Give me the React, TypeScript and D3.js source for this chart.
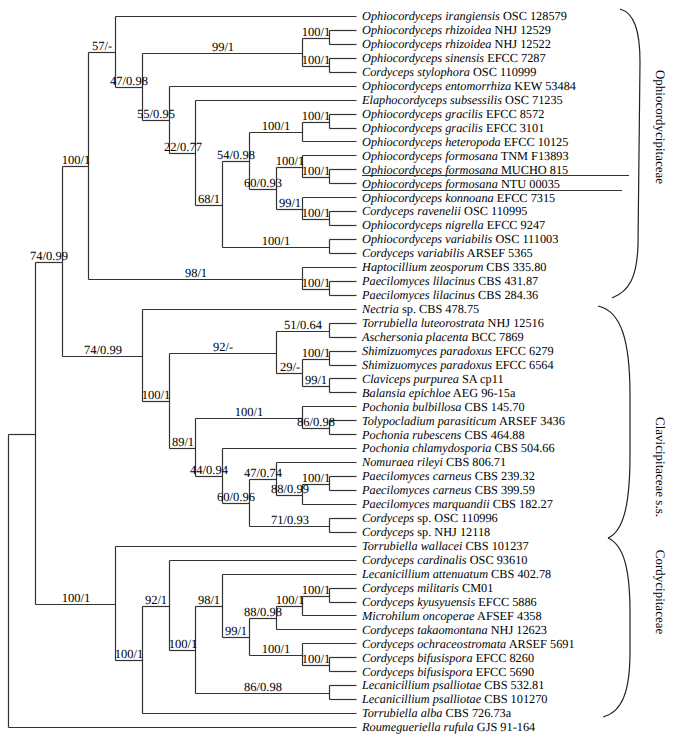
import React from 'react';
import * as d3 from 'd3';

// ---------- DATA ----------
const leafItalic: string[] = [
  'Ophiocordyceps irangiensis', 'Ophiocordyceps rhizoidea', 'Ophiocordyceps rhizoidea', 'Ophiocordyceps sinensis',
  'Cordyceps stylophora', 'Ophiocordyceps entomorrhiza', 'Elaphocordyceps subsessilis', 'Ophiocordyceps gracilis',
  'Ophiocordyceps gracilis', 'Ophiocordyceps heteropoda', 'Ophiocordyceps formosana', 'Ophiocordyceps formosana',
  'Ophiocordyceps formosana', 'Ophiocordyceps konnoana', 'Cordyceps ravenelii', 'Ophiocordyceps nigrella',
  'Ophiocordyceps variabilis', 'Cordyceps variabilis', 'Haptocillium zeosporum', 'Paecilomyces lilacinus',
  'Paecilomyces lilacinus', 'Nectria', 'Torrubiella luteorostrata', 'Aschersonia placenta',
  'Shimizuomyces paradoxus', 'Shimizuomyces paradoxus', 'Claviceps purpurea', 'Balansia epichloe',
  'Pochonia bulbillosa', 'Tolypocladium parasiticum', 'Pochonia rubescens', 'Pochonia chlamydosporia',
  'Nomuraea rileyi', 'Paecilomyces carneus', 'Paecilomyces carneus', 'Paecilomyces marquandii',
  'Cordyceps', 'Cordyceps', 'Torrubiella wallacei', 'Cordyceps cardinalis',
  'Lecanicillium attenuatum', 'Cordyceps militaris', 'Cordyceps kyusyuensis', 'Microhilum oncoperae',
  'Cordyceps takaomontana', 'Cordyceps ochraceostromata', 'Cordyceps bifusispora', 'Cordyceps bifusispora',
  'Lecanicillium psalliotae', 'Lecanicillium psalliotae', 'Torrubiella alba', 'Roumegueriella rufula',
];
const leafRoman: string[] = [
  'OSC 128579', 'NHJ 12529', 'NHJ 12522', 'EFCC 7287',
  'OSC 110999', 'KEW 53484', 'OSC 71235', 'EFCC 8572',
  'EFCC 3101', 'EFCC 10125', 'TNM F13893', 'MUCHO 815',
  'NTU 00035', 'EFCC 7315', 'OSC 110995', 'EFCC 9247',
  'OSC 111003', 'ARSEF 5365', 'CBS 335.80', 'CBS 431.87',
  'CBS 284.36', 'sp. CBS 478.75', 'NHJ 12516', 'BCC 7869',
  'EFCC 6279', 'EFCC 6564', 'SA cp11', 'AEG 96-15a',
  'CBS 145.70', 'ARSEF 3436', 'CBS 464.88', 'CBS 504.66',
  'CBS 806.71', 'CBS 239.32', 'CBS 399.59', 'CBS 182.27',
  'sp. OSC 110996', 'sp. NHJ 12118', 'CBS 101237', 'OSC 93610',
  'CBS 402.78', 'CM01', 'EFCC 5886', 'AFSEF 4358',
  'NHJ 12623', 'ARSEF 5691', 'EFCC 8260', 'EFCC 5690',
  'CBS 532.81', 'CBS 101270', 'CBS 726.73a', 'GJS 91-164',
];
const underlinedLeaves: number[] = [11, 12];

// Topology in Newick form: leaves are indices into the arrays above, internal labels are bootstrap/posterior support.
const subJ = '((10,(11,12)100/1)100/1,(13,(14,15)100/1)99/1)60/0.93';
const subI = `(((7,8)100/1,9)100/1,${subJ})54/0.98`;
const subH = `(${subI},(16,17)100/1)68/1`;
const subF = `(5,(6,${subH})22/0.77)55/0.95`;
const subE = '((1,2)100/1,(3,4)100/1)99/1';
const subOph = `((0,(${subE},${subF})47/0.98)57/-,(18,(19,20)100/1)98/1)100/1`;
const subL = '((22,23)51/0.64,((24,25)100/1,(26,27)99/1)29/-)92/-';
const subP = '((32,((33,34)100/1,35)88/0.99)47/0.74,(36,37)71/0.93)60/0.96';
const subM = `((28,(29,30)86/0.98)100/1,(31,${subP})44/0.94)89/1`;
const subClav = `(21,(${subL},${subM})100/1)74/0.99`;
const subW = '((((41,42)100/1,43)100/1,44)88/0.98,(45,(46,47)100/1)100/1)99/1';
const subCord = `(38,((39,((40,${subW})98/1,(48,49)86/0.98)100/1)92/1,50)100/1)100/1`;
const treeNewick = `(((${subOph},${subClav})74/0.99,${subCord}),51);`;

const cladeNames: string[] = ['Ophiocordycipitaceae', 'Clavicipitaceae s.s.', 'Cordycipitaceae'];

// ---------- LAYOUT / STYLE ----------
const W = 674, H = 742;
const LINE = '#333';
const FONT = '"Liberation Serif", "DejaVu Serif", serif';

type NNode = { label: string; children?: NNode[] };
function parseNewick(s: string): NNode {
  let i = 0;
  function node(): NNode {
    const n: NNode = { label: '' };
    if (s[i] === '(') {
      i++;
      n.children = [node()];
      while (s[i] === ',') { i++; n.children.push(node()); }
      i++;
    }
    const start = i;
    while (i < s.length && !',);'.includes(s[i])) i++;
    n.label = s.slice(start, i);
    return n;
  }
  return node();
}

export default function App() {
  const root = d3.hierarchy(parseNewick(treeNewick));
  const xScale = d3.scaleLinear().domain([0, root.height]).range([356, 8]);
  const yScale = d3.scaleLinear().domain([0, leafItalic.length - 1]).range([16, 727]);

  const pos = new Map<any, { x: number; y: number }>();
  root.eachAfter((n: any) => {
    let y: number;
    if (!n.children) y = yScale(+n.data.label);
    else y = (pos.get(n.children[0])!.y + pos.get(n.children[n.children.length - 1])!.y) / 2;
    pos.set(n, { x: Math.round(xScale(n.height)) + 0.5, y: Math.round(y) + 0.5 });
  });

  const nodes = root.descendants();
  const segs: JSX.Element[] = [];
  const labels: JSX.Element[] = [];
  nodes.forEach((n: any, k: number) => {
    const p = pos.get(n)!;
    if (n.parent) {
      const pp = pos.get(n.parent)!;
      segs.push(<line key={'h' + k} x1={pp.x} x2={p.x} y1={p.y} y2={p.y} />);
      if (n.children && n.data.label) {
        labels.push(
          <text key={'s' + k} x={Math.round((pp.x + p.x) / 2)} y={Math.round(p.y - 2.5)} textAnchor="middle" fontSize={12.5}>
            {n.data.label}
          </text>
        );
      }
    }
    if (n.children) {
      const a = pos.get(n.children[0])!, b = pos.get(n.children[n.children.length - 1])!;
      segs.push(<line key={'v' + k} x1={p.x} x2={p.x} y1={a.y} y2={b.y} />);
    }
  });

  const leafTextX = 362;
  const leafTexts = leafItalic.map((it, i) => (
    <text key={'l' + i} x={leafTextX} y={Math.round(yScale(i) + 4.3)} fontSize={12.3}>
      <tspan fontStyle="italic">{it}</tspan>
      <tspan> {leafRoman[i]}</tspan>
    </text>
  ));

  const underlineEnds = [629, 622];
  const underlineDy = [5.5, 6.5];

  const braces = [
    'M620,9 C634,13 640,30 640,62 L638,245 C637,276 630,291 612,298',
    'M598,306 C621,311 630,340 630,395 L630,455 C630,503 624,531 608,538',
    'M608,538 C624,545 630,570 630,612 L630,652 C630,692 622,712 603,717',
  ];
  const cladeY = [127, 467, 592];

  return (
    <svg width={W} height={H} style={{ position: 'absolute', left: 0, top: 0, background: '#fff' }} fontFamily={FONT} textRendering="geometricPrecision">
      <rect width={W} height={H} fill="#fff" />
      <g stroke={LINE} strokeWidth={1.2} fill="none">{segs}</g>
      <g fill="#000" opacity={0.999}>{labels}</g>
      <g fill="#000" opacity={0.999}>{leafTexts}</g>
      <g stroke={LINE} strokeWidth={1.2}>
        {underlinedLeaves.map((li, j) => (
          <line key={'u' + j} x1={leafTextX} x2={underlineEnds[j]} y1={Math.round(yScale(li) + underlineDy[j]) + 0.5} y2={Math.round(yScale(li) + underlineDy[j]) + 0.5} />
        ))}
      </g>
      <g stroke="#222" strokeWidth={1.2} fill="none">
        {braces.map((d, j) => <path key={'b' + j} d={d} />)}
      </g>
      <g fill="#000">
        {cladeNames.map((c, j) => (
          <text key={'c' + j} transform={`translate(656,${cladeY[j]}) rotate(90)`} textAnchor="middle" fontSize={13}>
            {c}
          </text>
        ))}
      </g>
    </svg>
  );
}
